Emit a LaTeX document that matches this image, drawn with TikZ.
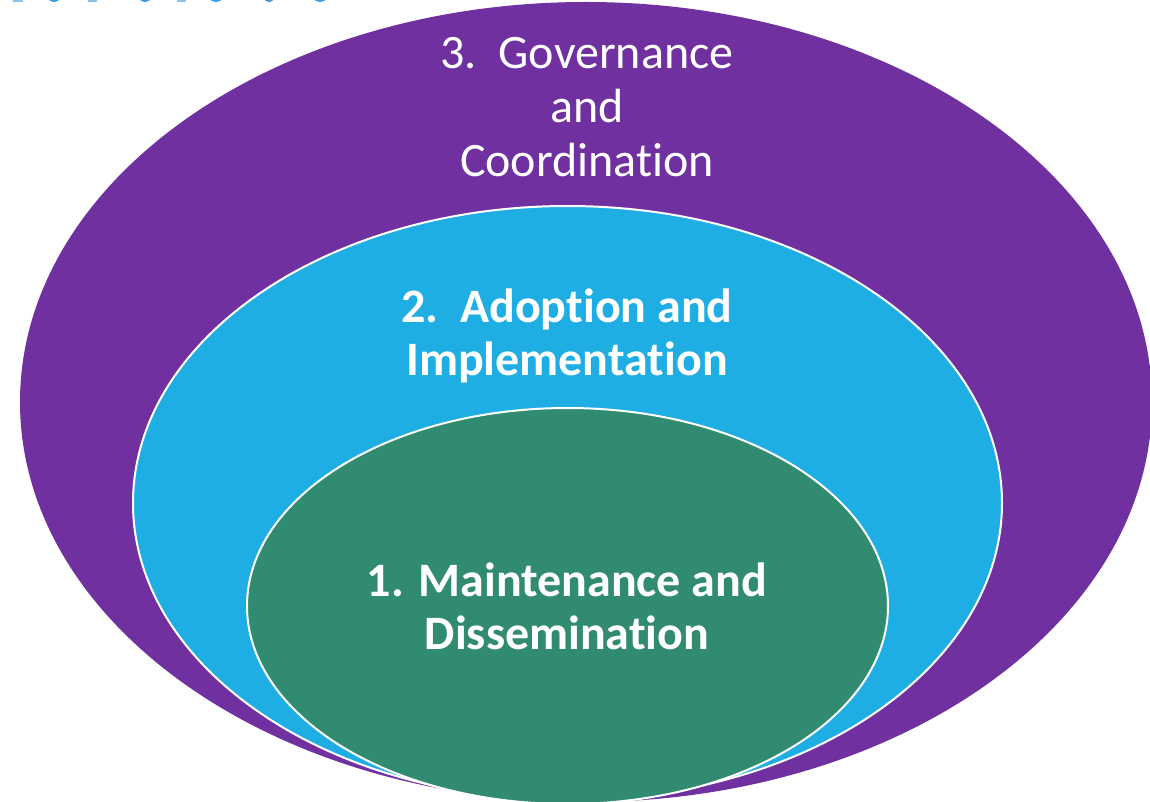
\documentclass[tikz,border=0pt]{standalone}
\usepackage{fontspec}
\setmainfont{Carlito}[RawFeature=-liga]
\begin{document}
\begin{tikzpicture}[x=1pt,y=-1pt,
  ring/.style={draw=white,line width=2pt},
  lbl/.style={text=white,align=center,inner sep=0pt,font=\fontsize{48}{54}\selectfont},
  lblb/.style={lbl,font=\fontsize{48}{53}\selectfont\bfseries},
  frag/.style={fill=titleblue}]
\definecolor{outerpurple}{HTML}{7030A0}
\definecolor{midblue}{HTML}{1FAEE3}
\definecolor{innergreen}{HTML}{318B70}
\definecolor{titleblue}{HTML}{3A9BDC}
\useasboundingbox (0,0) rectangle (1150,802);
\begin{scope}
\clip (0,0) rectangle (1150,802);
% clipped fragments of a title above the picture
\fill[frag,opacity=0.6] (13,-4) rectangle (23,2);
\fill[frag] (54,-7) ellipse (8 and 9);
\fill[frag,opacity=0.6] (88,-4) rectangle (97,2);
\fill[frag] (145,-7) ellipse (8 and 9);
\fill[frag,opacity=0.6] (177,-4) rectangle (186,2);
\fill[frag] (216,-7) ellipse (9 and 9);
\fill[frag] (269,-7) ellipse (7 and 9);
\fill[frag] (320,-7) ellipse (9 and 9);
\fill[outerpurple] (586,402) ellipse (566 and 400);
\filldraw[ring,fill=midblue] (567.5,503) ellipse (434.5 and 297);
\filldraw[ring,fill=innergreen] (567.5,606) ellipse (320.5 and 198);
\end{scope}
\node[lbl] (gov) at (587,107) {3.\ \ Governance\\and\\Coordination};
\node[lblb] (adopt) at (567,336) {2.\ \ Adoption and\\Implementation};
\node[lblb] (maint) at (567,606) {1. Maintenance and\\Dissemination};
\end{tikzpicture}
\end{document}
